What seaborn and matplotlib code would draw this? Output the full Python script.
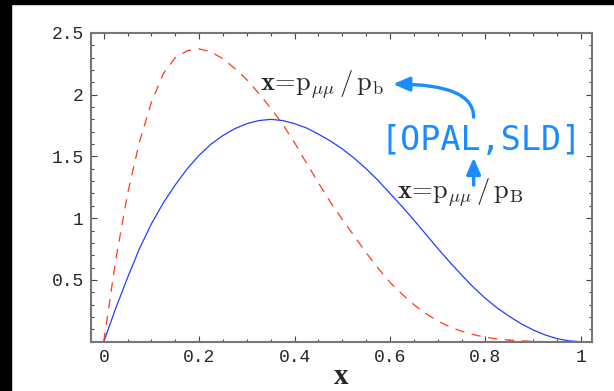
import numpy as np
import pandas as pd
import matplotlib
matplotlib.use("Agg")
import matplotlib.pyplot as plt
from matplotlib.patches import Rectangle
from matplotlib.ticker import MultipleLocator
import seaborn as sns

# --- data (x step 0.025) ---
x_vals = [i * 0.025 for i in range(41)]
blue_B = [0.0, 0.27, 0.52, 0.755, 0.955, 1.125, 1.27, 1.40, 1.51, 1.60,
          1.67, 1.725, 1.765, 1.79, 1.80, 1.79, 1.765, 1.73, 1.68, 1.625,
          1.56, 1.485, 1.40, 1.305, 1.20, 1.095, 0.985, 0.87, 0.755, 0.645,
          0.54, 0.44, 0.35, 0.272, 0.205, 0.145, 0.095, 0.055, 0.025, 0.007, 0.0]
red_b = [0.0, 0.66, 1.20, 1.62, 1.94, 2.17, 2.30, 2.355, 2.37, 2.345,
         2.29, 2.21, 2.12, 2.01, 1.89, 1.76, 1.61, 1.445, 1.285, 1.13,
         0.99, 0.855, 0.72, 0.595, 0.48, 0.385, 0.30, 0.228, 0.168, 0.12,
         0.085, 0.057, 0.036, 0.022, 0.013, 0.007, 0.003, 0.001, 0.0, 0.0, 0.0]

x_ticks = [0, 0.2, 0.4, 0.6, 0.8, 1]
x_ticklabels = ["0", "0.2", "0.4", "0.6", "0.8", "1"]
y_ticks = [0.5, 1, 1.5, 2, 2.5]
y_ticklabels = ["0.5", "1", "1.5", "2", "2.5"]

df = pd.DataFrame({"x": x_vals, "B": blue_B, "b": red_b})

sns.set_theme(style="white")
plt.rcParams["mathtext.fontset"] = "cm"

fig = plt.figure(figsize=(6.14, 3.91), dpi=100)
ax = fig.add_axes([0.148, 0.126, 0.816, 0.79])

# --- curves ---
sns.lineplot(data=df, x="x", y="B", ax=ax, color="#2040ff", lw=0.9)
sns.lineplot(data=df, x="x", y="b", ax=ax, color="#ff3a1a", lw=0.9,
             linestyle=(0, (7.5, 6)))

ax.set_xlim(-0.027, 1.023)
ax.set_ylim(0, 2.5)
ax.set_xticks(x_ticks)
ax.set_xticklabels(x_ticklabels)
ax.set_yticks(y_ticks)
ax.set_yticklabels(y_ticklabels)
ax.xaxis.set_minor_locator(MultipleLocator(0.05))
ax.yaxis.set_minor_locator(MultipleLocator(0.1))
ax.tick_params(which="both", direction="in", top=True, right=True,
               bottom=True, left=True, color="#444444", width=0.8)
ax.tick_params(which="major", length=4, labelsize=13, pad=5)
ax.tick_params(which="minor", length=2.5)
for lab in ax.get_xticklabels() + ax.get_yticklabels():
    lab.set_family("Liberation Mono")
for sp in ax.spines.values():
    sp.set_color("#777777")
    sp.set_linewidth(1.5)

ax.set_xlabel("x", family="Liberation Serif", fontweight="bold", fontsize=21, labelpad=-2)
ax.set_ylabel("")

# --- annotations ---
blue_txt = "#1a8cff"
ax.text(0.461, 0.834, r"$\mathbf{x}\!=\!\mathrm{p}_{\mu\mu}\,/\,\mathrm{p}_\mathrm{b}$",
        transform=ax.transAxes, ha="center", va="center", fontsize=19)
ax.text(0.737, 0.484, r"$\mathbf{x}\!=\!\mathrm{p}_{\mu\mu}\,/\,\mathrm{p}_\mathrm{B}$",
        transform=ax.transAxes, ha="center", va="center", fontsize=19)
ax.text(0.778, 0.650, "[OPAL,SLD]", transform=ax.transAxes, ha="center",
        va="center", fontsize=24, family="DejaVu Sans Mono", color=blue_txt)

ax.annotate("", xy=(0.603, 0.834), xytext=(0.764, 0.727),
            xycoords="axes fraction", textcoords="axes fraction",
            arrowprops=dict(arrowstyle="-|>,head_length=0.7,head_width=0.3",
                            mutation_scale=14, color=blue_txt, lw=2.4,
                            connectionstyle="angle3,angleA=90,angleB=0",
                            shrinkA=0, shrinkB=0))
ax.annotate("", xy=(0.764, 0.596), xytext=(0.764, 0.507),
            xycoords="axes fraction", textcoords="axes fraction",
            arrowprops=dict(arrowstyle="-|>,head_length=0.7,head_width=0.3",
                            mutation_scale=14, color=blue_txt, lw=2.4,
                            shrinkA=0, shrinkB=0))

# black frame strips of the screenshot
fig.patches.append(Rectangle((0, 0), 11 / 614, 1, transform=fig.transFigure,
                             color="black", zorder=-1))
fig.patches.append(Rectangle((0, 1 - 4 / 391), 1, 4 / 391, transform=fig.transFigure,
                             color="black", zorder=-1))

fig.savefig("out.png", dpi=100)
